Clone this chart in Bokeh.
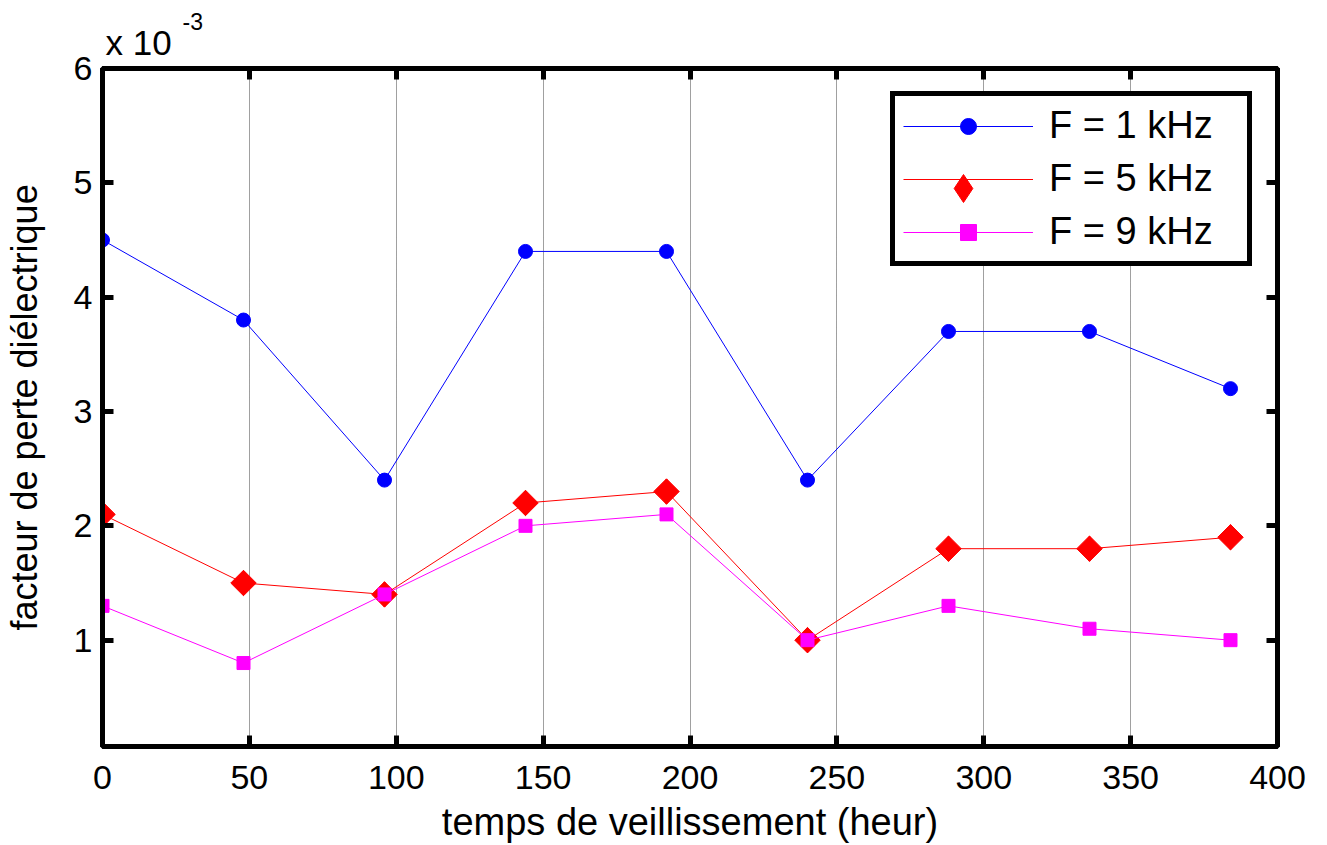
import numpy as np
from bokeh.plotting import figure
from bokeh.models import Range1d, LinearAxis, Legend, LegendItem, Title, FixedTicker
from bokeh.embed import file_html
from bokeh.resources import INLINE

# ---- data (values in units of 1e-3) ----
hours = [0, 48, 96, 144, 192, 240, 288, 336, 384]
f1k = [4.5, 3.8, 2.4, 4.4, 4.4, 2.4, 3.7, 3.7, 3.2]
f5k = [2.1, 1.5, 1.4, 2.2, 2.3, 1.0, 1.8, 1.8, 1.9]
f9k = [1.3, 0.8, 1.4, 2.0, 2.1, 1.0, 1.3, 1.1, 1.0]
labels = ["F = 1 kHz", "F = 5 kHz", "F = 9 kHz"]
x_ticks = [0, 50, 100, 150, 200, 250, 300, 350, 400]
y_ticks = [1, 2, 3, 4, 5, 6]

FONT = "Liberation Sans"

p = figure(width=1327, height=845, output_backend="svg", toolbar_location=None,
           x_range=Range1d(0, 400), y_range=Range1d(0.07, 6),
           min_border_left=102, min_border_right=50, min_border_top=68, min_border_bottom=99)

p.background_fill_color = "white"
p.border_fill_color = "white"
p.outline_line_color = "black"
p.outline_line_width = 5

# grid
p.ygrid.grid_line_color = None
p.xgrid.ticker = FixedTicker(ticks=x_ticks)
p.xgrid.grid_line_color = "#404040"
p.xgrid.grid_line_width = 1
p.xgrid.grid_line_dash = "1 1"

def style_axis(ax, show_labels=True):
    ax.axis_line_width = 5
    ax.axis_line_color = "black"
    ax.major_tick_in = 11
    ax.major_tick_out = 0
    ax.major_tick_line_width = 5
    ax.major_tick_line_color = "black"
    ax.minor_tick_line_color = None
    ax.major_label_text_font = FONT
    ax.axis_label_text_font = FONT
    ax.axis_label_text_font_size = "36px"
    ax.axis_label_text_font_style = "normal"
    ax.axis_label_text_color = "black"
    if show_labels:
        ax.major_label_text_color = "black"
        ax.major_label_text_font_size = "34px"
    else:
        ax.major_label_text_color = None
        ax.major_label_text_font_size = "0px"

p.xaxis.ticker = FixedTicker(ticks=x_ticks)
p.yaxis.ticker = FixedTicker(ticks=y_ticks)
for ax in p.xaxis + p.yaxis:
    style_axis(ax)
p.xaxis.axis_label_text_font_size = "38px"
p.xaxis.major_label_standoff = 19
p.yaxis.major_label_standoff = 10
p.xaxis.axis_label = "temps de veillissement (heur)"
p.yaxis.axis_label = "facteur de perte diélectrique"
p.xaxis.axis_label_standoff = 9
p.yaxis.axis_label_standoff = 26

top_ax = LinearAxis(ticker=FixedTicker(ticks=x_ticks))
right_ax = LinearAxis(ticker=FixedTicker(ticks=y_ticks))
style_axis(top_ax, False)
style_axis(right_ax, False)
top_ax.major_label_standoff = 0
right_ax.major_label_standoff = 0
p.add_layout(top_ax, "above")
p.add_layout(right_ax, "right")

# exponent annotation "x 10^-3"
t_main = Title(text="x 10", align="left", offset=3, vertical_align="top", standoff=10,
               text_font=FONT, text_font_size="35px", text_font_style="normal",
               text_color="black")
p.add_layout(t_main, "above")
p.title.text = "-3"
p.title.align = "left"
p.title.offset = 80
p.title.vertical_align = "bottom"
p.title.standoff = -25
p.title.text_font = FONT
p.title.text_font_size = "23px"
p.title.text_font_style = "normal"
p.title.text_color = "black"

# series
l1 = p.line(hours, f1k, line_color="#0000FF", line_width=1)
m1 = p.scatter(hours, f1k, marker="circle", size=14, fill_color="#0000FF", line_color="#0000FF")
l2 = p.line(hours, f5k, line_color="#FF0000", line_width=1)
d2 = p.scatter(hours, f5k, marker="diamond", size=25, fill_color="#FF0000", line_color="#FF0000")
m2 = p.scatter(hours, f5k, marker="square", angle=np.pi / 4, size=18,
               fill_color="#FF0000", line_color="#FF0000")
l3 = p.line(hours, f9k, line_color="#FF00FF", line_width=1)
m3 = p.scatter(hours, f9k, marker="square", size=13, fill_color="#FF00FF", line_color="#FF00FF")

LEG_X, LEG_Y = 788, 480
PAD, ROW, SP, GW = 8, 40, 10, 130

legend = Legend(items=[LegendItem(label=labels[0], renderers=[l1, m1]),
                       LegendItem(label=labels[1], renderers=[l2]),
                       LegendItem(label=labels[2], renderers=[l3, m3])],
                location=(LEG_X, LEG_Y))
legend.border_line_color = "black"
legend.border_line_alpha = 1
legend.border_line_width = 5
legend.background_fill_color = "white"
legend.background_fill_alpha = 1
legend.label_text_font = FONT
legend.label_text_font_size = "38px"
legend.label_text_color = "black"
legend.glyph_width = GW
legend.glyph_height = ROW
legend.label_height = ROW
legend.label_width = 190
legend.label_standoff = 16
legend.spacing = SP
legend.padding = PAD
legend.margin = 0
p.add_layout(legend, "center")

# larger diamond glyph for the middle legend entry (legend markers scale with glyph height)
DH = 70
row2_center = PAD + ROW + SP + ROW / 2
legend_d = Legend(items=[LegendItem(label=labels[1], renderers=[d2])],
                  location=(LEG_X + PAD, int(LEG_Y + row2_center - DH / 2)))
legend_d.border_line_color = None
legend_d.background_fill_color = None
legend_d.background_fill_alpha = 0
legend_d.label_text_color = None
legend_d.label_text_font_size = "0px"
legend_d.label_width = 0
legend_d.label_height = 1
legend_d.label_standoff = 0
legend_d.glyph_width = GW
legend_d.glyph_height = DH
legend_d.padding = 0
legend_d.margin = 0
legend_d.spacing = 0
p.add_layout(legend_d, "center")

open("out.html", "w").write(file_html(p, INLINE))
